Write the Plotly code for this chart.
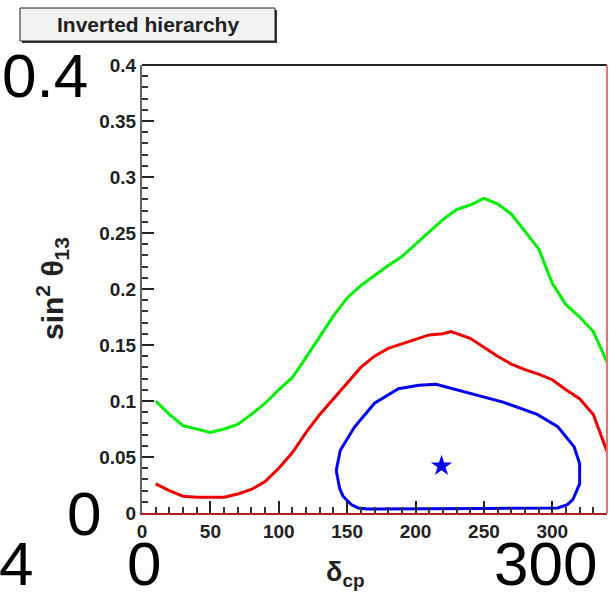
import plotly.graph_objects as go

# ---- data ----
green_x = [10, 20, 30, 40, 50, 60, 70, 80, 90, 100, 110, 120, 130, 140, 150, 160, 170,
           180, 190, 200, 210, 220, 230, 240, 250, 260, 270, 280, 290, 300, 310, 320, 330, 340]
green_y = [0.100, 0.088, 0.078, 0.075, 0.072, 0.075, 0.079, 0.088, 0.098, 0.110, 0.121,
           0.139, 0.157, 0.176, 0.192, 0.203, 0.212, 0.221, 0.229, 0.240, 0.251, 0.262,
           0.271, 0.275, 0.281, 0.276, 0.267, 0.252, 0.236, 0.205, 0.186, 0.175, 0.162, 0.135]

red_x = [10, 20, 30, 40, 50, 60, 70, 80, 90, 100, 110, 120, 130, 140, 150, 160, 170, 180,
         190, 200, 210, 220, 226, 240, 250, 260, 270, 280, 290, 300, 310, 320, 330, 340]
red_y = [0.026, 0.020, 0.015, 0.014, 0.014, 0.014, 0.017, 0.021, 0.028, 0.040, 0.054,
         0.072, 0.088, 0.102, 0.117, 0.130, 0.140, 0.147, 0.151, 0.155, 0.159, 0.160,
         0.162, 0.156, 0.148, 0.140, 0.133, 0.128, 0.124, 0.119, 0.110, 0.102, 0.088, 0.055]

blue_x = [142, 145, 155.5, 170, 187.5, 202.5, 215, 239, 264, 289, 304, 316, 320, 320,
          315, 311, 304, 250, 165, 158, 153, 147, 144.5, 142]
blue_y = [0.038, 0.056, 0.077, 0.098, 0.111, 0.114, 0.115, 0.107, 0.099, 0.088, 0.077,
          0.059, 0.044, 0.026, 0.012, 0.0075, 0.0045, 0.004, 0.0036, 0.0045, 0.0075,
          0.015, 0.022, 0.038]

best_x = [219]
best_y = [0.042]

x_tickvals = [0, 50, 100, 150, 200, 250, 300]
y_tickvals = [0, 0.05, 0.1, 0.15, 0.2, 0.25, 0.3, 0.35, 0.4]
y_ticktext = ["0", "0.05", "0.1", "0.15", "0.2", "0.25", "0.3", "0.35", "0.4"]

title_text = "Inverted hierarchy"
big_labels = ["0.4", "0", "4", "0", "300"]

# ---- figure ----
W, H = 614, 592
L, R, T, B = 142, 7, 65, 79
pw, ph = W - L - R, H - T - B


def px(x):
    return (x - L) / pw


def py(y):
    return (H - B - y) / ph


fig = go.Figure()
fig.add_trace(go.Scatter(x=green_x, y=green_y, mode="lines",
                         line=dict(color="#00ee00", width=3), showlegend=False))
fig.add_trace(go.Scatter(x=red_x, y=red_y, mode="lines",
                         line=dict(color="#ee0000", width=3), showlegend=False))
fig.add_trace(go.Scatter(x=blue_x, y=blue_y, mode="lines",
                         line=dict(color="#0000ee", width=3), showlegend=False))
fig.add_trace(go.Scatter(x=best_x, y=best_y, mode="markers",
                         marker=dict(symbol="star", size=16, color="#0000ee"),
                         showlegend=False))

tickfont = dict(family="Liberation Sans, Arial, sans-serif", size=19, color="#222222",
                weight="bold")

fig.update_layout(
    width=W, height=H,
    margin=dict(l=L, r=R, t=T, b=B),
    paper_bgcolor="white", plot_bgcolor="white",
    xaxis=dict(range=[0, 340], tickvals=x_tickvals, ticks="inside", ticklen=12,
               tickcolor="#222", tickwidth=1.5, showgrid=False, zeroline=False,
               showline=True, linecolor="#b02020", linewidth=2,
               tickfont=tickfont,
               minor=dict(ticks="inside", dtick=10, ticklen=6, tickcolor="#333",
                          showgrid=False)),
    yaxis=dict(range=[0, 0.4], tickvals=y_tickvals, ticktext=y_ticktext,
               ticks="inside", ticklen=12, tickcolor="#222", tickwidth=1.5,
               showgrid=False, zeroline=False, showline=True, linecolor="#666",
               linewidth=2, tickfont=tickfont,
               minor=dict(ticks="inside", dtick=0.01, ticklen=6, tickcolor="#333",
                          showgrid=False)),
)

# top and right frame lines
fig.add_shape(type="line", xref="paper", yref="paper", x0=0, x1=1, y0=1, y1=1,
              line=dict(color="#222", width=2))
fig.add_shape(type="line", xref="paper", yref="paper", x0=1, x1=1, y0=0, y1=1,
              line=dict(color="#f07070", width=2))

# axis titles
fig.add_annotation(xref="paper", yref="paper", x=px(52), y=py(289),
                   xanchor="center", yanchor="middle",
                   text="<b>sin<sup>2</sup> θ<sub>13</sub></b>", textangle=-90,
                   showarrow=False, font=dict(family="Liberation Sans, Arial", size=30,
                                              color="#222"))
fig.add_annotation(xref="paper", yref="paper", x=px(345), y=py(574),
                   xanchor="center", yanchor="middle",
                   text="<b>δ<sub>cp</sub></b>", showarrow=False,
                   font=dict(family="Liberation Sans, Arial", size=27, color="#222"))

# title box with shadow
bx0, bx1, by0, by1 = 20, 275, 8, 41
fig.add_shape(type="rect", xref="paper", yref="paper",
              x0=px(bx0 + 2), x1=px(bx1 + 2), y0=py(by1 + 2), y1=py(by0 + 2),
              fillcolor="#333", line=dict(width=0), layer="above")
fig.add_shape(type="rect", xref="paper", yref="paper",
              x0=px(bx0), x1=px(bx1), y0=py(by1), y1=py(by0),
              fillcolor="#f2f2f2", line=dict(color="#222", width=1), layer="above")
fig.add_annotation(xref="paper", yref="paper", x=px((bx0 + bx1) / 2), y=py((by0 + by1) / 2),
                   xanchor="center", yanchor="middle",
                   text="<b>" + title_text + "</b>", showarrow=False,
                   font=dict(family="Liberation Sans, Arial", size=21, color="#222"))

# large overlaid labels
bigfont = dict(family="Liberation Sans, Arial", size=62, color="black")
big_pos = [(0, 76, "left"), (84, 513, "center"), (35, 563, "right"),
           (144, 563, "center"), (545, 563, "center")]
for lab, (bxp, byp, anc) in zip(big_labels, big_pos):
    fig.add_annotation(xref="paper", yref="paper", x=px(bxp), y=py(byp), text=lab,
                       showarrow=False, xanchor=anc, yanchor="middle", font=bigfont)

fig.write_html("out.html")
